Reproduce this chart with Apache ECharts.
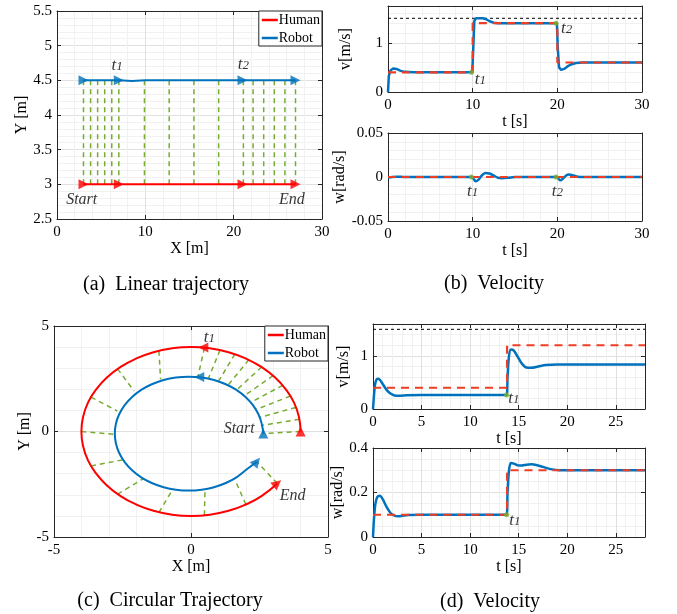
<!DOCTYPE html>
<html>
<head>
<meta charset="utf-8">
<script src="https://cdn.jsdelivr.net/npm/echarts@6/dist/echarts.min.js"></script>
<style>
html, body { margin: 0; padding: 0; background: #fff; }
#chart { width: 677px; height: 614px; }
</style>
</head>
<body>
<div id="chart"></div>
<script>
const FONT = 'Liberation Serif'
const RED = '#ff0000', BLUE = '#0072bd', GREEN = '#77ac30', DASHRED = '#ef3e26', AXC = '#262626'

// (a) linear trajectory
const linHumanX = [3, 27]
const linHumanY = [3, 3]
const linRobotX = [3, 7, 8.5, 10, 27]
const linRobotY = [4.5, 4.5, 4.49, 4.5, 4.5]
const linArrowX = [3, 7, 21, 27]
const linLinkX = [3, 3.8, 4.6, 5.4, 6.2, 7, 9.9, 12.7, 15.5, 18.3, 21.1, 22.2, 23.4, 24.6, 25.8, 27]
const linLabels = [[2.8, 2.77, 'Start'], [26.6, 2.77, 'End'], [6.8, 4.72, 't1'], [21.1, 4.74, 't2']]

// (b) velocity, linear case
const linVt = [0, 0.1, 0.3, 0.6, 1.0, 1.5, 2.0, 3, 9.95, 10.05, 10.2, 10.4, 11.2, 11.6, 12.0, 12.5, 13, 14, 19.95, 20.05, 20.2, 20.45, 20.8, 21.2, 21.6, 22.2, 23, 30]
const linVrobot = [0, 0.33, 0.44, 0.48, 0.47, 0.43, 0.41, 0.4, 0.4, 0.8, 1.45, 1.5, 1.5, 1.48, 1.44, 1.41, 1.4, 1.4, 1.4, 0.9, 0.5, 0.45, 0.47, 0.52, 0.56, 0.59, 0.6, 0.6]
const linVht = [0, 10, 10, 20, 20, 30]
const linVhuman = [0.4, 0.4, 1.4, 1.4, 0.6, 0.6]
const linWt = [0, 0.5, 1, 2, 9.9, 10.1, 10.35, 10.7, 11.1, 11.5, 12.0, 12.5, 13.0, 13.5, 14.2, 15, 19.9, 20.1, 20.35, 20.7, 21.0, 21.4, 21.9, 22.4, 23, 30]
const linWrobot = [-0.0008, 0, 0.0004, 0, 0, -0.002, -0.0048, -0.003, 0.002, 0.0045, 0.004, 0.0015, -0.0008, -0.0013, -0.0008, 0, 0, -0.0015, -0.0038, -0.0015, 0.0015, 0.0028, 0.0018, 0.0004, 0, 0]
const linWht = [0, 30]
const linWhuman = [0, 0]
const vLimitT = [0, 30]
const vLimit = [1.5, 1.5]
const linDotsT = [9.85, 19.85]
const linDotsV = [0.4, 1.4]
const linDotsW = [0, 0]
const linVLabels = [[10.9, 0.26, 't1'], [21.1, 1.3, 't2']]
const linWLabels = [[10.0, -0.0165, 't1'], [20.0, -0.0165, 't2']]

// (c) circular trajectory
const circHumanX = [4, 3.94, 3.76, 3.46, 3.06, 2.57, 2.0, 1.37, 0.69, 0, -0.69, -1.37, -2.0, -2.57, -3.06, -3.46, -3.76, -3.94, -4, -3.94, -3.76, -3.46, -3.06, -2.57, -2.0, -1.37, -0.69, 0, 0.69, 1.37, 2.0, 2.57, 3.15]
const circHumanY = [0, 0.69, 1.37, 2.0, 2.57, 3.06, 3.46, 3.76, 3.94, 4, 3.94, 3.76, 3.46, 3.06, 2.57, 2.0, 1.37, 0.69, 0, -0.69, -1.37, -2.0, -2.57, -3.06, -3.46, -3.76, -3.94, -4, -3.94, -3.76, -3.46, -3.06, -2.46]
const circRobotX = [2.64, 2.58, 2.46, 2.26, 1.99, 1.66, 1.27, 0.84, 0.39, -0.08, -0.55, -1.0, -1.43, -1.82, -2.15, -2.42, -2.62, -2.74, -2.78, -2.74, -2.62, -2.42, -2.15, -1.82, -1.43, -1.0, -0.55, -0.08, 0.39, 0.84, 1.27, 1.66, 1.99, 2.4]
const circRobotY = [-0.1, 0.37, 0.82, 1.25, 1.64, 1.97, 2.24, 2.44, 2.56, 2.6, 2.56, 2.44, 2.24, 1.97, 1.64, 1.25, 0.82, 0.37, -0.1, -0.57, -1.02, -1.45, -1.84, -2.17, -2.44, -2.64, -2.76, -2.8, -2.76, -2.64, -2.44, -2.17, -1.84, -1.43]
const circLinkHX = [4.0, 3.96, 3.83, 3.63, 3.35, 3.0, 2.58, 2.11, 1.60, 1.06, 0.49, -1.17, -2.68, -3.65, -4.0, -3.65, -2.68, -1.17, 0.49, 2.0, 3.15]
const circLinkHY = [0.0, 0.58, 1.14, 1.68, 2.19, 2.65, 3.06, 3.40, 3.67, 3.86, 3.97, 3.83, 2.97, 1.63, 0.0, -1.63, -2.97, -3.83, -3.97, -3.46, -2.46]
const circLinkRX = [2.64, 2.59, 2.51, 2.37, 2.18, 1.94, 1.66, 1.35, 1.00, 0.63, 0.25, -1.11, -2.08, -2.69, -2.81, -2.51, -1.72, -0.68, 0.51, 1.61, 2.4]
const circLinkRY = [-0.1, 0.29, 0.67, 1.04, 1.38, 1.69, 1.96, 2.19, 2.37, 2.50, 2.58, 2.47, 1.92, 0.97, -0.13, -1.35, -2.22, -2.77, -2.77, -2.3, -1.43]
const circHumanArrows = [[4, 0], [0.45, 3.98], [3.15, -2.46]]
const circRobotArrows = [[2.64, -0.1], [0.3, 2.58], [2.4, -1.43]]
const circArrowHeading = [0, 90, -50]
const circRobotHeading = [0, 90, -40]
const circLabels = [[1.76, 0.15, 'Start'], [3.71, -3.06, 'End'], [0.67, 4.49, 't1']]

// (d) velocity, circular case
const circVt = [0, 0.1, 0.2, 0.35, 0.5, 0.7, 1.0, 1.4, 1.8, 2.2, 2.7, 3.5, 5, 13.75, 13.85, 14.0, 14.2, 14.5, 14.9, 15.3, 15.8, 16.3, 17, 17.8, 19, 28]
const circVrobot = [0, 0.25, 0.45, 0.55, 0.57, 0.55, 0.47, 0.36, 0.29, 0.255, 0.25, 0.258, 0.262, 0.262, 0.6, 1.0, 1.12, 1.1, 0.98, 0.86, 0.78, 0.775, 0.8, 0.83, 0.84, 0.84]
const circVht = [0, 13.8, 13.8, 28]
const circVhuman = [0.4, 0.4, 1.2, 1.2]
const circWt = [0, 0.1, 0.25, 0.45, 0.7, 1.0, 1.4, 1.8, 2.2, 2.6, 3.0, 3.6, 5, 13.75, 13.85, 14.0, 14.2, 14.5, 14.9, 15.3, 15.8, 16.3, 16.8, 17.5, 18.3, 19.2, 28]
const circWrobot = [0, 0.08, 0.15, 0.18, 0.185, 0.17, 0.135, 0.108, 0.096, 0.093, 0.095, 0.099, 0.1, 0.1, 0.2, 0.3, 0.333, 0.33, 0.322, 0.321, 0.325, 0.327, 0.324, 0.315, 0.305, 0.3, 0.3]
const circWht = [0, 13.8, 13.8, 28]
const circWhuman = [0.1, 0.1, 0.3, 0.3]
const circLimitT = [0, 28]
const circDotsT = [13.75]
const circDotsV = [0.262]
const circDotsW = [0.1]
const circVLabels = [[14.5, 0.2, 't1']]
const circWLabels = [[14.6, 0.076, 't1']]

const captions = ['(a)  Linear trajectory', '(b)  Velocity', '(c)  Circular Trajectory', '(d)  Velocity']

const zip = (a, b) => a.map((v, i) => [v, b[i]])

const chart = echarts.init(document.getElementById('chart'))

function axis(g, min, max, interval, name, gap, minor, extra) {
    return Object.assign({
        type: 'value', gridIndex: g, min, max, interval,
        name, nameGap: gap, nameLocation: 'middle',
        nameTextStyle: { fontFamily: FONT, fontSize: 16, color: '#000' },
        axisLine: { show: true, onZero: false, lineStyle: { color: AXC, width: 1 } },
        axisTick: { show: true, inside: true, length: 4, lineStyle: { color: AXC } },
        splitLine: { show: true, lineStyle: { color: '#e0e0e0', width: 1 } },
        minorTick: { show: false, splitNumber: minor || 5 },
        minorSplitLine: { show: true, lineStyle: { color: '#f1f1f1', width: 1 } }
    }, extra || {})
}
function mirror(g, min, max, interval, position) {
    return {
        type: 'value', gridIndex: g, min, max, interval, position,
        axisLine: { show: true, onZero: false, lineStyle: { color: AXC, width: 1 } },
        axisTick: { show: true, inside: true, length: 4, lineStyle: { color: AXC } },
        axisLabel: { show: false },
        splitLine: { show: false }
    }
}
const tickLabel = (margin, hideMax) => ({ fontFamily: FONT, fontSize: 15, color: '#000', margin, showMaxLabel: hideMax ? false : null })

// grid, min, max, interval, name, nameGap, hide max label
const xDefs = [
    [0, 0, 30, 10, 'X [m]', 20, false],
    [1, 0, 30, 10, 't [s]', 20, false],
    [2, 0, 30, 10, 't [s]', 21, false],
    [3, -5, 5, 5, 'X [m]', 21, false],
    [4, 0, 28, 5, 't [s]', 20, true],
    [5, 0, 28, 5, 't [s]', 21, true]
]
// grid, min, max, interval, name, nameGap, hide max label, minor splits
const yDefs = [
    [0, 2.5, 5.5, 0.5, 'Y [m]', 22, false, 5],
    [1, 0, 1.75, 1, 'v[m/s]', 34, true, 5],
    [2, -0.05, 0.05, 0.05, 'w[rad/s]', 34, false, 5],
    [3, -5, 5, 5, 'Y [m]', 17, false, 5],
    [4, 0, 1.6, 1, 'v[m/s]', 21, true, 5],
    [5, 0, 0.4, 0.2, 'w[rad/s]', 20, false, 4]
]

const xAxis = xDefs.map(d => axis(d[0], d[1], d[2], d[3], d[4], d[5], 5, { position: 'bottom', axisLabel: tickLabel(6, d[6]) }))
    .concat(xDefs.map(d => mirror(d[0], d[1], d[2], d[3], 'top')))
const yAxis = yDefs.map(d => axis(d[0], d[1], d[2], d[3], d[4], d[5], d[7], { position: 'left', axisLabel: tickLabel(5, d[6]) }))
    .concat(yDefs.map(d => mirror(d[0], d[1], d[2], d[3], 'right')))

function line(name, data, g, color, width, dash, z, smooth) {
    return {
        name, type: 'line', data, xAxisIndex: g, yAxisIndex: g, symbol: 'none', silent: true,
        smooth: smooth || false, smoothConstraint: false, z: z || 2,
        lineStyle: { color, width, type: dash || 'solid' }, itemStyle: { color }
    }
}
function arrows(g, pts, heading, color, size) {
    return {
        type: 'scatter', xAxisIndex: g, yAxisIndex: g, symbol: 'triangle', symbolSize: size, silent: true, z: 5,
        itemStyle: { color },
        data: pts.map((p, i) => ({ value: p, symbolRotate: heading[i] }))
    }
}
function dots(g, t, v) {
    return {
        type: 'scatter', xAxisIndex: g, yAxisIndex: g, symbol: 'circle', symbolSize: 5, silent: true, z: 6,
        itemStyle: { color: GREEN }, data: zip(t, v)
    }
}
const fmt = s => /^t\d$/.test(s) ? '{t|t}{s|' + s[1] + '}' : '{i|' + s + '}'
function labels(g, list) {
    return {
        type: 'scatter', xAxisIndex: g, yAxisIndex: g, symbol: 'circle', symbolSize: 0, silent: true, z: 7,
        data: list.map(l => ({ value: [l[0], l[1]], name: l[2] })),
        label: {
            show: true, position: 'inside', color: '#000',
            formatter: p => fmt(p.name),
            rich: {
                t: { fontFamily: FONT, fontStyle: 'italic', fontSize: 17, lineHeight: 16, verticalAlign: 'top', color: '#000' },
                s: { fontFamily: FONT, fontStyle: 'italic', fontSize: 13, lineHeight: 12, padding: [11, 0, 0, 0], verticalAlign: 'bottom', color: '#000' },
                i: { fontFamily: FONT, fontStyle: 'italic', fontSize: 16, color: '#000' }
            }
        }
    }
}

const series = []
// (a)
linLinkX.forEach(x => series.push(line('link', [[x, linHumanY[0]], [x, linRobotY[0]]], 0, GREEN, 1.5, [5, 4], 1)))
series.push(line('Human', zip(linHumanX, linHumanY), 0, RED, 2, 'solid', 3))
series.push(line('Robot', zip(linRobotX, linRobotY), 0, BLUE, 2, 'solid', 3))
series.push(arrows(0, linArrowX.map(x => [x, linHumanY[0]]), linArrowX.map(() => -90), RED, 10))
series.push(arrows(0, linArrowX.map(x => [x, linRobotY[0]]), linArrowX.map(() => -90), BLUE, 10))
series.push(labels(0, linLabels))
// (b)
series.push(line('v limit', zip(vLimitT, vLimit), 1, '#000', 1, [3, 3], 1))
series.push(line('v robot', zip(linVt, linVrobot), 1, BLUE, 2.5, 'solid', 2))
series.push(line('v human', zip(linVht, linVhuman), 1, DASHRED, 2.2, [8, 6], 3))
series.push(dots(1, linDotsT, linDotsV))
series.push(labels(1, linVLabels))
series.push(line('w robot', zip(linWt, linWrobot), 2, BLUE, 2.5, 'solid', 2, 0.3))
series.push(line('w human', zip(linWht, linWhuman), 2, DASHRED, 2.2, [8, 6], 3))
series.push(dots(2, linDotsT, linDotsW))
series.push(labels(2, linWLabels))
// (c)
circLinkHX.forEach((x, i) => series.push(line('link', [[x, circLinkHY[i]], [circLinkRX[i], circLinkRY[i]]], 3, GREEN, 1.5, [5, 4], 1)))
series.push(line('Human', zip(circHumanX, circHumanY), 3, RED, 2, 'solid', 3, 0.5))
series.push(line('Robot', zip(circRobotX, circRobotY), 3, BLUE, 2, 'solid', 3, 0.5))
series.push(arrows(3, circHumanArrows, circArrowHeading, RED, 10))
series.push(arrows(3, circRobotArrows, circRobotHeading, BLUE, 10))
series.push(labels(3, circLabels))
// (d)
series.push(line('v limit', zip(circLimitT, vLimit), 4, '#000', 1, [3, 3], 1))
series.push(line('v robot', zip(circVt, circVrobot), 4, BLUE, 2.5, 'solid', 2, 0.3))
series.push(line('v human', zip(circVht, circVhuman), 4, DASHRED, 2.2, [8, 6], 3))
series.push(dots(4, circDotsT, circDotsV))
series.push(labels(4, circVLabels))
series.push(line('w robot', zip(circWt, circWrobot), 5, BLUE, 2.5, 'solid', 2, 0.3))
series.push(line('w human', zip(circWht, circWhuman), 5, DASHRED, 2.2, [8, 6], 3))
series.push(dots(5, circDotsT, circDotsW))
series.push(labels(5, circWLabels))

const legendBase = {
    data: [{ name: 'Human', itemStyle: { color: RED } }, { name: 'Robot', itemStyle: { color: BLUE } }],
    icon: 'rect', orient: 'vertical', itemWidth: 16, itemHeight: 2.5, itemGap: 4,
    backgroundColor: '#fff', borderColor: AXC, borderWidth: 1, padding: [2, 2, 1, 3], borderRadius: 0,
    textStyle: { fontFamily: FONT, fontSize: 14, color: '#000', padding: [0, 0, 0, -4] },
    selectedMode: false
}

const capPos = [[166, 285], [494, 284], [170, 601], [490, 602]]

chart.setOption({
    backgroundColor: '#fff',
    animation: false,
    grid: [
        { left: 57, top: 11, width: 265, height: 208 },
        { left: 388, top: 6, width: 254, height: 86 },
        { left: 388, top: 133, width: 254, height: 88 },
        { left: 54, top: 326, width: 274, height: 211 },
        { left: 373, top: 324, width: 272, height: 85 },
        { left: 373, top: 448, width: 272, height: 89 }
    ],
    legend: [
        Object.assign({ right: 355, top: 11 }, legendBase),
        Object.assign({ right: 349, top: 326 }, legendBase)
    ],
    xAxis,
    yAxis,
    series,
    graphic: captions.map((c, i) => ({
        type: 'text', x: capPos[i][0], y: capPos[i][1], silent: true,
        style: { text: c, fontFamily: FONT, fontSize: 20, fill: '#000', align: 'center', verticalAlign: 'middle' }
    }))
})
</script>
</body>
</html>
